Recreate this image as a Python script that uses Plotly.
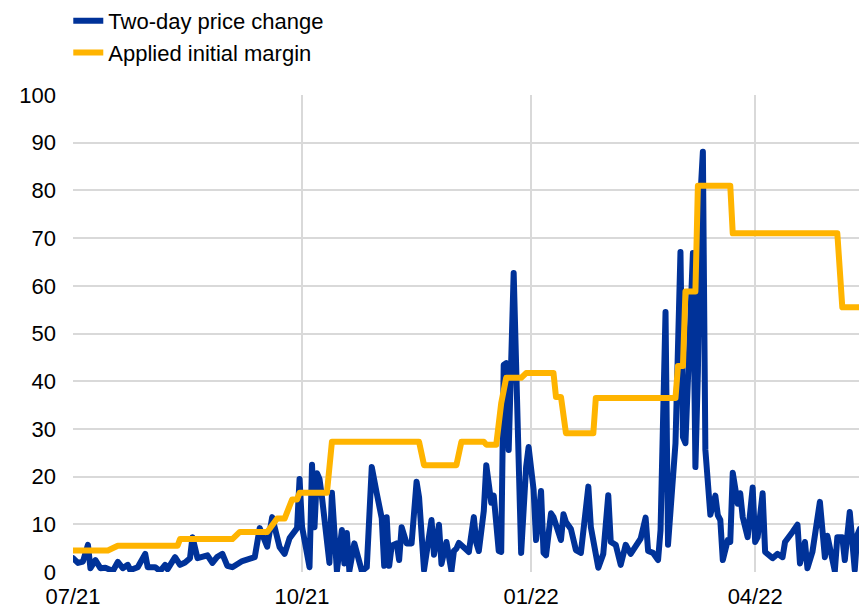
import plotly.graph_objects as go

# Two-day price change
price_dates = [
    "2021-07-01","2021-07-03","2021-07-05","2021-07-07","2021-07-08","2021-07-10","2021-07-12","2021-07-14",
    "2021-07-17","2021-07-19","2021-07-21","2021-07-23","2021-07-24","2021-07-27","2021-07-30","2021-07-31",
    "2021-08-03","2021-08-05","2021-08-07","2021-08-08","2021-08-11","2021-08-13","2021-08-15","2021-08-17",
    "2021-08-18","2021-08-20","2021-08-24","2021-08-26","2021-08-28","2021-08-30","2021-09-01","2021-09-03",
    "2021-09-07","2021-09-10","2021-09-12","2021-09-14","2021-09-17","2021-09-19","2021-09-22","2021-09-24",
    "2021-09-26","2021-09-29","2021-09-30","2021-10-01","2021-10-02","2021-10-04","2021-10-05","2021-10-06",
    "2021-10-07","2021-10-08","2021-10-09","2021-10-12","2021-10-13","2021-10-15","2021-10-17","2021-10-18",
    "2021-10-19","2021-10-20","2021-10-22","2021-10-23","2021-10-25","2021-10-27","2021-10-29","2021-10-31",
    "2021-11-02","2021-11-03","2021-11-04","2021-11-05","2021-11-06","2021-11-08","2021-11-09","2021-11-10",
    "2021-11-12","2021-11-14","2021-11-16","2021-11-17","2021-11-19","2021-11-22","2021-11-23","2021-11-25",
    "2021-11-26","2021-11-28","2021-11-30","2021-12-01","2021-12-02","2021-12-03","2021-12-05","2021-12-07",
    "2021-12-09","2021-12-10","2021-12-11","2021-12-13","2021-12-14","2021-12-16","2021-12-17","2021-12-19",
    "2021-12-20","2021-12-21","2021-12-22","2021-12-23","2021-12-25","2021-12-26","2021-12-28","2021-12-30",
    "2021-12-31","2022-01-02","2022-01-03","2022-01-05","2022-01-06","2022-01-07","2022-01-09","2022-01-10",
    "2022-01-13","2022-01-14","2022-01-15","2022-01-17","2022-01-19","2022-01-21","2022-01-24","2022-01-25",
    "2022-01-27","2022-01-28","2022-01-30","2022-02-01","2022-02-02","2022-02-04","2022-02-06","2022-02-08",
    "2022-02-10","2022-02-12","2022-02-14","2022-02-16","2022-02-17","2022-02-19","2022-02-21","2022-02-22",
    "2022-02-24","2022-02-25","2022-02-27","2022-02-28","2022-03-02","2022-03-03","2022-03-04","2022-03-05",
    "2022-03-07","2022-03-08","2022-03-09","2022-03-10","2022-03-11","2022-03-12","2022-03-13","2022-03-14",
    "2022-03-16","2022-03-17","2022-03-18","2022-03-19","2022-03-21","2022-03-22","2022-03-23","2022-03-25",
    "2022-03-26","2022-03-27","2022-03-29","2022-03-31","2022-04-01","2022-04-02","2022-04-04","2022-04-05",
    "2022-04-08","2022-04-10","2022-04-12","2022-04-13","2022-04-16","2022-04-18","2022-04-19","2022-04-21",
    "2022-04-22","2022-04-24","2022-04-27","2022-04-29","2022-04-30","2022-05-01","2022-05-03","2022-05-04",
    "2022-05-06","2022-05-07","2022-05-09","2022-05-11","2022-05-12","2022-05-13",
]
price_values = [
    2.9, 1.9, 2.2, 5.7, 0.8, 2.5, 0.8, 0.9,
    0.2, 2.1, 0.8, 1.5, 0.4, 1.0, 3.8, 1.0,
    1.0, 0.2, 1.5, 0.6, 3.1, 1.5, 2.0, 2.9,
    7.3, 2.9, 3.5, 1.9, 3.2, 3.8, 1.3, 1.0,
    2.3, 2.6, 3.1, 9.2, 5.3, 11.5, 5.2, 3.8,
    7.1, 9.2, 19.5, 9.5, 6.0, 1.0, 22.5, 9.4,
    20.7, 19.5, 15.7, 1.9, 16.6, 0.2, 8.8, 1.8,
    8.2, 0.2, 6.0, 3.8, 0.2, 1.0, 22.0, 16.5,
    11.3, 1.3, 11.5, 1.3, 5.5, 6.0, 2.5, 9.4,
    6.0, 6.0, 18.9, 15.7, 0.4, 10.9, 3.6, 9.9,
    1.7, 6.3, 0.2, 4.4, 4.9, 6.1, 5.0, 4.2,
    11.5, 6.1, 4.4, 12.8, 22.4, 14.5, 16.0, 4.4,
    4.2, 43.4, 43.8, 25.6, 62.7, 41.0, 4.0, 22.0,
    26.2, 17.3, 6.7, 17.0, 4.0, 3.5, 12.3, 11.5,
    6.7, 12.1, 10.5, 9.0, 4.6, 4.0, 17.9, 9.4,
    2.3, 0.9, 3.8, 16.1, 6.3, 5.7, 1.5, 5.7,
    3.8, 5.7, 7.0, 11.4, 4.4, 4.0, 2.5, 8.8,
    54.5, 5.7, 22.8, 27.0, 67.1, 28.3, 27.0, 42.4,
    66.9, 22.0, 42.0, 78.6, 88.1, 25.6, 16.6, 12.0,
    16.0, 11.9, 10.9, 2.5, 6.7, 6.3, 20.8, 14.3,
    16.5, 11.5, 7.3, 17.7, 6.3, 7.3, 16.5, 4.2,
    2.9, 3.8, 3.1, 6.3, 8.4, 9.9, 1.8, 6.3,
    0.8, 4.2, 14.7, 3.1, 7.6, 5.3, 0.2, 7.3,
    7.3, 2.5, 12.6, 0.4, 7.7, 9.0,
]

# Applied initial margin
margin_dates = [
    "2021-07-01","2021-07-15","2021-07-19","2021-08-12","2021-08-13","2021-09-03","2021-09-06","2021-09-17",
    "2021-09-21","2021-09-24","2021-09-27","2021-09-29","2021-09-30","2021-10-11","2021-10-13","2021-11-17",
    "2021-11-19","2021-12-02","2021-12-04","2021-12-13","2021-12-14","2021-12-18","2021-12-20","2021-12-22",
    "2021-12-28","2021-12-30","2022-01-10","2022-01-11","2022-01-13","2022-01-15","2022-01-26","2022-01-27",
    "2022-02-28","2022-03-01","2022-03-03","2022-03-04","2022-03-08","2022-03-09","2022-03-22","2022-03-23",
    "2022-05-04","2022-05-06","2022-05-13",
]
margin_values = [
    4.5, 4.5, 5.5, 5.5, 6.9, 6.9, 8.4, 8.4,
    11.2, 11.2, 15.2, 15.2, 16.6, 16.6, 27.3, 27.3,
    22.4, 22.4, 27.3, 27.3, 26.7, 26.7, 35.4, 40.7,
    40.7, 41.7, 41.7, 36.7, 36.7, 29.1, 29.1, 36.5,
    36.5, 43.2, 43.2, 58.8, 58.8, 81.0, 81.0, 71.0,
    71.0, 55.5, 55.5,
]

tick_dates = ["2021-07-01", "2021-10-01", "2022-01-01", "2022-04-01"]
tick_labels = ["07/21", "10/21", "01/22", "04/22"]
y_ticks = [0, 10, 20, 30, 40, 50, 60, 70, 80, 90, 100]

BLUE = "#003299"
YELLOW = "#ffb400"
GRID = "#d9d9d9"
FONT = "Liberation Sans, Arial, sans-serif"

fig = go.Figure()
fig.add_trace(go.Scatter(x=price_dates, y=price_values, mode="lines",
                         name="Two-day price change",
                         line=dict(color=BLUE, width=6)))
fig.add_trace(go.Scatter(x=margin_dates, y=margin_values, mode="lines",
                         name="Applied initial margin",
                         line=dict(color=YELLOW, width=6)))

fig.update_layout(
    width=859, height=608,
    margin=dict(l=73, r=0, t=95, b=36, autoexpand=False),
    paper_bgcolor="white", plot_bgcolor="white",
    font=dict(family=FONT, size=22, color="#000000"),
    showlegend=True,
    legend=dict(x=-0.006, xref="paper", y=1.0, yref="container",
                xanchor="left", yanchor="top",
                bgcolor="rgba(0,0,0,0)", font=dict(size=22),
                itemwidth=30, tracegroupgap=0),
    xaxis=dict(type="date", range=["2021-07-01", "2022-05-12 17:00"],
               tickvals=tick_dates, ticktext=tick_labels,
               showgrid=True, gridcolor=GRID, gridwidth=1.5,
               showline=False, zeroline=False, ticks="",
               automargin=False, ticklabelstandoff=9,
               tickfont=dict(size=22)),
    yaxis=dict(range=[0, 100], tickvals=y_ticks,
               showgrid=True, gridcolor=GRID, gridwidth=1.5,
               zeroline=False, showline=False, ticks="",
               automargin=False,
               ticklabelstandoff=16, tickfont=dict(size=22)),
)

post = """
document.body.style.margin='0';
document.body.style.padding='0';
var s=document.createElement('style');
s.innerHTML='body{margin:0;padding:0;} .scatterlayer .js-line{stroke-linejoin:round;stroke-linecap:round;}';
document.head.appendChild(s);
"""
fig.write_html("out.html", post_script=post, config={"displayModeBar": False})
